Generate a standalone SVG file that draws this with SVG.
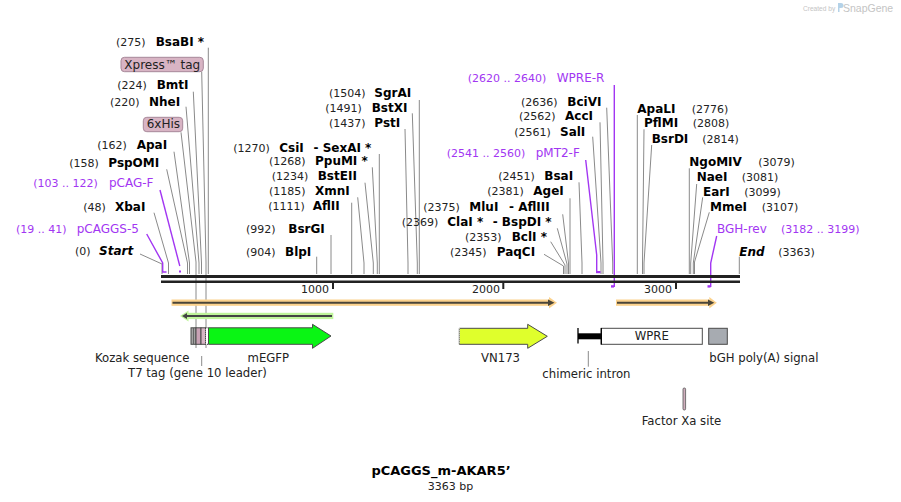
<svg xmlns="http://www.w3.org/2000/svg" width="901" height="502" viewBox="0 0 901 502">
<style>
text{font-family:"DejaVu Sans","Liberation Sans",sans-serif}
.n{font-size:11px;fill:#222}
.e{font-size:12px;font-weight:bold;fill:#000}
.ei{font-size:12px;font-weight:bold;font-style:italic;fill:#000}
.p{font-size:12px;fill:#a236f2}
.pn{font-size:11px;fill:#a236f2}
.f{font-size:11.7px;fill:#222}
.ln{stroke:#8a8a8a;stroke-width:1;fill:none}
.pl{stroke:#a236f2;stroke-width:1.4;fill:none}
.tag{fill:#d8b4c4;stroke:#a78899;stroke-width:1}
.box{stroke:#4a4a4a;stroke-width:1}
</style>
<rect width="901" height="502" fill="#fff"/>

<g id="watermark">
<text x="803" y="11" style="font-family:'Liberation Sans',sans-serif;font-size:6.6px;fill:#c4c4c4">Created by</text>
<path d="M838 3 h3 a2.5 2.5 0 0 1 0 5 h-1.5 v4 h-1.5z" fill="#b4d2e8"/>
<text x="843" y="11.5" style="font-family:'Liberation Sans',sans-serif;font-size:10.5px;fill:#c4c4c4">SnapGene</text>
</g>

<!-- connectors -->
<g id="connectors">
<polyline class="ln" points="140,254 162,264 162,274"/>
<polyline class="ln" points="154,212.7 168.5,263 168.5,274"/>
<polyline class="ln" points="166.7,169.3 187.5,263 187.5,274"/>
<polyline class="ln" points="174,151.7 189.5,263 189.5,274"/>
<polyline class="ln" points="181,132.3 196,262 196,348"/>
<polyline class="ln" points="186,106.7 199,263 199,274"/>
<polyline class="ln" points="193.3,91.7 201.5,263 201.5,274"/>
<polyline class="ln" points="201.7,71.7 206,262 206,348"/>
<polyline class="ln" points="208.3,47.7 208.3,274"/>

<polyline class="ln" points="419.3,100 419.3,274"/>
<polyline class="ln" points="412.3,113.3 417.3,263 417.3,274"/>
<polyline class="ln" points="405,129 408,263 408,274"/>
<polyline class="ln" points="379.3,154 379.3,274"/>
<polyline class="ln" points="372.3,167.3 377.3,263 377.3,274"/>
<polyline class="ln" points="365,182.7 373.3,263 373.3,274"/>
<polyline class="ln" points="357.7,197.3 364,263 364,274"/>
<polyline class="ln" points="351.7,202.7 351.7,274"/>
<polyline class="ln" points="331,235 331,274"/>
<polyline class="ln" points="316.7,256.7 316.7,274"/>

<polyline class="ln" points="544,254.3 563.5,266 563.5,274"/>
<polyline class="ln" points="550.7,241.7 565,265 565,274"/>
<polyline class="ln" points="557.3,228.3 567,264 567,274"/>
<polyline class="ln" points="562.7,214.3 568.5,263 568.5,274"/>
<polyline class="ln" points="570,198.3 570,274"/>
<polyline class="ln" points="579,182.3 582,263 582,274"/>
<polyline class="ln" points="592.7,136.7 601,263 601,274"/>
<polyline class="ln" points="600,122.3 603,263 603,274"/>
<polyline class="ln" points="606.7,107.7 612.7,263 612.7,274"/>

<polyline class="ln" points="637.3,115 637.3,274"/>
<polyline class="ln" points="644,129.3 642.5,263 642.5,274"/>
<polyline class="ln" points="651.7,145 644,263 644,274"/>
<polyline class="ln" points="689.3,168.3 689.3,274"/>
<polyline class="ln" points="696.7,184 690.7,263 690.7,274"/>
<polyline class="ln" points="702.7,197.3 693.3,263 693.3,274"/>
<polyline class="ln" points="709.3,212.3 694.5,262 694.5,274"/>
<polyline class="ln" points="739.3,256.7 739.3,274"/>

<!-- primers -->
<polyline class="pl" points="146.7,234 162.7,263 162.7,272 166.5,272"/>
<polyline class="pl" points="160,190 179.8,266"/>
<rect x="179" y="270.5" width="2" height="2" fill="#a236f2"/>
<polyline class="pl" points="585.7,160 596.7,255 596.7,271.5"/>
<rect x="596" y="271" width="4.5" height="2.2" fill="#a236f2"/>
<polyline class="pl" points="614.3,85 614.3,287"/>
<rect x="611" y="285.2" width="3" height="2.4" fill="#a236f2"/>
<polyline class="pl" points="716.7,236 710.7,263 710.7,287"/>
<rect x="707.5" y="285.2" width="3" height="2.4" fill="#a236f2"/>

<line class="ln" x1="201.7" y1="356" x2="201.7" y2="366"/>
<line class="ln" x1="588.3" y1="351" x2="588.3" y2="366.7"/>
</g>

<!-- backbone -->
<g id="backbone">
<rect x="161" y="275" width="579" height="3" fill="#222"/>
<rect x="161" y="280.5" width="579" height="2.5" fill="#222"/>
<rect x="332" y="282" width="2" height="7" fill="#222"/>
<rect x="502.3" y="282" width="2" height="7" fill="#222"/>
<rect x="675" y="282" width="2" height="7" fill="#222"/>
<text class="n" x="329" y="293" text-anchor="end">1000</text>
<text class="n" x="500" y="293" text-anchor="end">2000</text>
<text class="n" x="672" y="293" text-anchor="end">3000</text>
</g>

<!-- ORF bands -->
<g id="orf1">
<rect x="171.5" y="299.5" width="378" height="6.3" fill="#fcd28c"/>
<polygon points="549,297 557,302.7 549,308.4" fill="#fcd28c"/>
<line x1="172.5" y1="302.7" x2="549" y2="302.7" stroke="#4a4538" stroke-width="2"/>
<polygon points="548,299.5 554.5,302.7 548,305.9" fill="#4a4538"/>
</g>
<g id="orf2">
<rect x="616" y="299.5" width="93.5" height="6.3" fill="#fcd28c"/>
<polygon points="709.3,297 716.8,302.7 709.3,308.4" fill="#fcd28c"/>
<line x1="617" y1="302.7" x2="709" y2="302.7" stroke="#4a4538" stroke-width="2"/>
<polygon points="708,299.5 714.3,302.7 708,305.9" fill="#4a4538"/>
</g>
<g id="orf3">
<rect x="188" y="312.8" width="145.3" height="6.3" fill="#bff59a"/>
<polygon points="188.5,310.5 180,316 188.5,321.5" fill="#bff59a"/>
<line x1="187" y1="316" x2="332" y2="316" stroke="#444" stroke-width="2"/>
<polygon points="187,313 182,316 187,319" fill="#444"/>
</g>

<!-- features -->
<g id="f-kozak">
<rect class="box" x="191" y="327.8" width="5" height="16.5" fill="#a3a3a3"/>
<line x1="193.5" y1="328" x2="193.5" y2="344" stroke="#555" stroke-width="0.8"/>
<text class="f" x="95" y="361.7">Kozak sequence</text>
</g>
<g id="f-6xhis">
<rect class="box" x="196" y="327.8" width="5" height="16.5" fill="#c9a2b5"/>
</g>
<g id="f-xpress">
<rect class="box" x="201" y="327.8" width="4.5" height="16.5" fill="#d7b5c5"/>
</g>
<g id="f-t7">
<rect x="205.5" y="327.8" width="3" height="16.5" fill="#fff" stroke="#333" stroke-width="1" stroke-dasharray="1,1"/>
<text class="f" x="128" y="376.5">T7 tag (gene 10 leader)</text>
</g>
<g id="f-megfp">
<polygon class="box" points="208.5,327.8 312.5,327.8 312.5,324.3 331,336 312.5,348.3 312.5,344.3 208.5,344.3" fill="#0af514"/>
<text class="f" x="247.5" y="361.7">mEGFP</text>
</g>
<g id="f-vn173">
<polygon class="box" points="459.3,328.3 527.7,328.3 527.7,324.3 547.3,336.3 527.7,348.3 527.7,344.3 459.3,344.3" fill="#dfff2c"/>
<line x1="459.3" y1="328.3" x2="459.3" y2="344.3" stroke="#fff" stroke-width="1" stroke-dasharray="1,1"/>
<text class="f" x="481" y="361.7">VN173</text>
</g>
<g id="f-intron">
<line x1="578" y1="328" x2="578" y2="343.5" stroke="#000" stroke-width="1.3"/>
<rect x="578" y="333.3" width="23.5" height="6" fill="#000"/>
<text class="f" x="542.3" y="377.5">chimeric intron</text>
</g>
<g id="f-wpre">
<rect class="box" x="601.3" y="328.3" width="101" height="16" fill="#fff"/>
<line x1="601.3" y1="328" x2="601.3" y2="344.5" stroke="#000" stroke-width="1.3"/>
<text class="f" x="651.8" y="340" text-anchor="middle">WPRE</text>
</g>
<g id="f-bgh">
<rect class="box" x="708.7" y="328.3" width="18.6" height="16" fill="#a7abb1"/>
<text class="f" x="709.3" y="361.7">bGH poly(A) signal</text>
</g>
<g id="f-factorxa">
<rect x="683" y="388" width="2.6" height="22" rx="1.2" fill="#cfaebc" stroke="#555" stroke-width="0.8"/>
<text class="f" x="641.7" y="425">Factor Xa site</text>
</g>

<!-- left labels -->
<g id="l-bsabi"><text class="n" x="116" y="45.7">(275)</text><text class="e" x="155.7" y="45.7">BsaBI *</text></g>
<g id="l-xpress"><rect class="tag" x="121" y="57.3" width="82.3" height="14.4" rx="3.5"/><text class="f" x="124.3" y="68.5" style="font-size:12px">Xpress™ tag</text></g>
<g id="l-bmti"><text class="n" x="117.3" y="89.3">(224)</text><text class="e" x="156.7" y="89.3">BmtI</text></g>
<g id="l-nhei"><text class="n" x="110" y="106">(220)</text><text class="e" x="149" y="106">NheI</text></g>
<g id="l-6xhis"><rect class="tag" x="143.3" y="117.3" width="39.4" height="14.4" rx="3.5"/><text class="f" x="146.7" y="128.3" style="font-size:12px">6xHis</text></g>
<g id="l-apai"><text class="n" x="97.3" y="149.3">(162)</text><text class="e" x="136.7" y="149.3">ApaI</text></g>
<g id="l-pspomi"><text class="n" x="69.3" y="166.7">(158)</text><text class="e" x="108.3" y="166.7">PspOMI</text></g>
<g id="l-pcagf"><text class="pn" x="33.3" y="187.3">(103 .. 122)</text><text class="p" x="109" y="187.3">pCAG-F</text></g>
<g id="l-xbai"><text class="n" x="83.3" y="211">(48)</text><text class="e" x="115" y="211">XbaI</text></g>
<g id="l-pcaggs5"><text class="pn" x="16" y="232.7">(19 .. 41)</text><text class="p" x="76.7" y="232.7">pCAGGS-5</text></g>
<g id="l-start"><text class="n" x="75" y="255">(0)</text><text class="ei" x="99" y="255">Start</text></g>

<!-- middle labels -->
<g id="l-sgrai"><text class="n" x="329" y="97.3">(1504)</text><text class="e" x="374.3" y="97.3">SgrAI</text></g>
<g id="l-bstxi"><text class="n" x="325.3" y="112.3">(1491)</text><text class="e" x="371.7" y="112.3">BstXI</text></g>
<g id="l-psti"><text class="n" x="329" y="126.7">(1437)</text><text class="e" x="374.3" y="126.7">PstI</text></g>
<g id="l-csii"><text class="n" x="233.3" y="151.7">(1270)</text><text class="e" x="279.3" y="151.7">CsiI</text><text class="e" x="313.5" y="151.7">- SexAI *</text></g>
<g id="l-ppumi"><text class="n" x="269" y="165">(1268)</text><text class="e" x="315" y="165">PpuMI *</text></g>
<g id="l-bsteii"><text class="n" x="271.7" y="180">(1234)</text><text class="e" x="317.7" y="180">BstEII</text></g>
<g id="l-xmni"><text class="n" x="269" y="195">(1185)</text><text class="e" x="315" y="195">XmnI</text></g>
<g id="l-aflii"><text class="n" x="268.3" y="210">(1111)</text><text class="e" x="312.7" y="210">AflII</text></g>
<g id="l-bsrgi"><text class="n" x="246" y="233.3">(992)</text><text class="e" x="288.3" y="233.3">BsrGI</text></g>
<g id="l-blpi"><text class="n" x="246" y="256">(904)</text><text class="e" x="285" y="256">BlpI</text></g>

<!-- right-middle labels -->
<g id="l-wprer"><text class="pn" x="467.7" y="82.3">(2620 .. 2640)</text><text class="p" x="556.7" y="82.3">WPRE-R</text></g>
<g id="l-bcivi"><text class="n" x="521" y="105.7">(2636)</text><text class="e" x="567.3" y="105.7">BciVI</text></g>
<g id="l-acci"><text class="n" x="519" y="120">(2562)</text><text class="e" x="565" y="120">AccI</text></g>
<g id="l-sali"><text class="n" x="514.3" y="135.7">(2561)</text><text class="e" x="560" y="135.7">SalI</text></g>
<g id="l-pmt2f"><text class="pn" x="446.7" y="157.3">(2541 .. 2560)</text><text class="p" x="535.7" y="157.3">pMT2-F</text></g>
<g id="l-bsai"><text class="n" x="498.3" y="180">(2451)</text><text class="e" x="544.3" y="180">BsaI</text></g>
<g id="l-agei"><text class="n" x="487.3" y="195">(2381)</text><text class="e" x="533.3" y="195">AgeI</text></g>
<g id="l-mlui"><text class="n" x="423.3" y="210.7">(2375)</text><text class="e" x="469.3" y="210.7">MluI</text><text class="e" x="509" y="210.7">- AflIII</text></g>
<g id="l-clai"><text class="n" x="401.7" y="225.7">(2369)</text><text class="e" x="447.3" y="225.7">ClaI *</text><text class="e" x="492.7" y="225.7">- BspDI *</text></g>
<g id="l-bcli"><text class="n" x="465" y="240.7">(2353)</text><text class="e" x="511.7" y="240.7">BclI *</text></g>
<g id="l-paqci"><text class="n" x="450" y="255.7">(2345)</text><text class="e" x="496.7" y="255.7">PaqCI</text></g>

<!-- right labels -->
<g id="l-apali"><text class="e" x="637.3" y="112.7">ApaLI</text><text class="n" x="691.7" y="112.7">(2776)</text></g>
<g id="l-pflmi"><text class="e" x="644" y="127.3">PflMI</text><text class="n" x="692.7" y="127.3">(2808)</text></g>
<g id="l-bsrdi"><text class="e" x="651.7" y="142.7">BsrDI</text><text class="n" x="702.3" y="142.7">(2814)</text></g>
<g id="l-ngomiv"><text class="e" x="689.3" y="166">NgoMIV</text><text class="n" x="758.3" y="166">(3079)</text></g>
<g id="l-naei"><text class="e" x="696.7" y="181">NaeI</text><text class="n" x="741.7" y="181">(3081)</text></g>
<g id="l-eari"><text class="e" x="703" y="196">EarI</text><text class="n" x="744.3" y="196">(3099)</text></g>
<g id="l-mmei"><text class="e" x="710" y="210.7">MmeI</text><text class="n" x="761.7" y="210.7">(3107)</text></g>
<g id="l-bghrev"><text class="p" x="717" y="232.7">BGH-rev</text><text class="pn" x="781" y="232.7">(3182 .. 3199)</text></g>
<g id="l-end"><text class="ei" x="739.3" y="255.7">End</text><text class="n" x="778.3" y="255.7">(3363)</text></g>

<g id="title">
<text x="441" y="475" text-anchor="middle" style="font-size:13px;font-weight:bold;fill:#000">pCAGGS_m-AKAR5’</text>
<text x="450.5" y="489.5" text-anchor="middle" class="n">3363 bp</text>
</g>
</svg>
